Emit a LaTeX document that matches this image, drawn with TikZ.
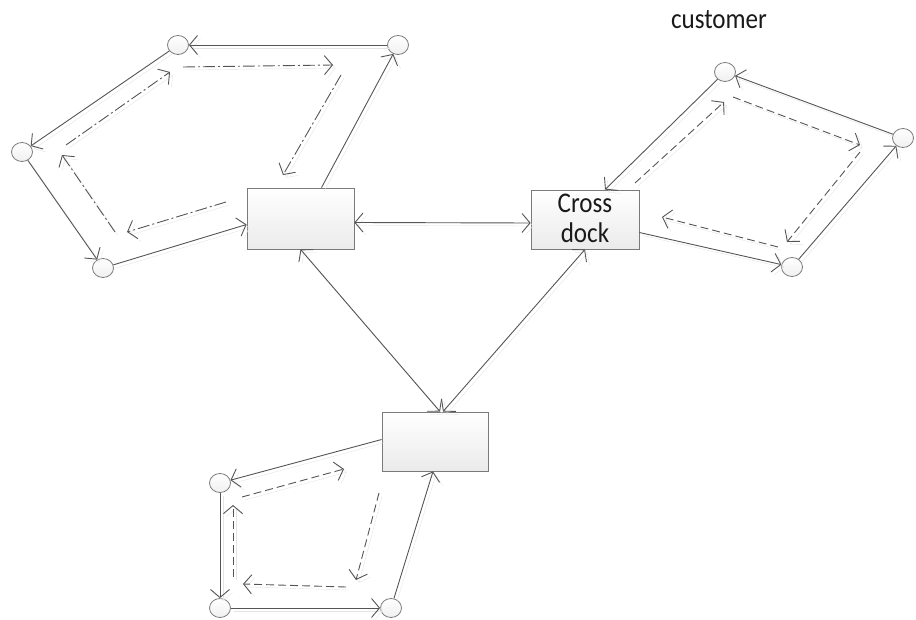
\documentclass[tikz,border=0pt]{standalone}
\usepackage{fontspec}
\newfontfamily\diafont[FakeStretch=0.88]{Carlito}
\usetikzlibrary{arrows.meta,shapes.geometric}
\definecolor{linec}{HTML}{555555}
\definecolor{shadc}{HTML}{E4E4E4}
\definecolor{boxc}{HTML}{7A7A7A}
\begin{document}
\begin{tikzpicture}[x=1pt,y=-1pt,
  >={Straight Barb[length=8pt,width=19pt]},
  site/.style={ellipse, draw=boxc, line width=0.8pt, minimum width=21pt, minimum height=19pt, inner sep=0pt, top color=white, bottom color=black!6},
  hub/.style={rectangle, draw=boxc, line width=0.8pt, minimum width=107pt, minimum height=61pt, inner sep=0pt, top color=white, bottom color=black!8},
  flow/.style={draw=linec, line width=0.9pt, ->, preaction={draw=shadc, transform canvas={shift={(3pt,-3pt)}}}},
  ret/.style={flow, dash pattern=on 8pt off 4pt},
  retdd/.style={flow, dash pattern=on 12pt off 3pt on 2pt off 3pt},
  lbl/.style={font=\diafont\fontsize{28.5}{30}\selectfont, text=black!90}
]
\useasboundingbox (0,0) rectangle (916,620);

% hubs
\node[hub] (lb) at (300.5,218.5) {};
\node[hub, minimum width=108pt, minimum height=59pt, lbl, align=center, text depth=3pt] (cd) at (585,219.5) {Cross\\dock};
\node[hub, minimum width=106pt, minimum height=59pt] (bb) at (435,441.5) {};

% customers
\node[site] (c1) at (178,45) {};
\node[site] (c2) at (398,45) {};
\node[site] (c3) at (22,152) {};
\node[site] (c4) at (103,268) {};
\node[site] (r1) at (725,72) {};
\node[site] (r2) at (903,138) {};
\node[site] (r3) at (792,267) {};
\node[site] (b1) at (220,483) {};
\node[site] (b2) at (220,608) {};
\node[site] (b3) at (391,608) {};

\node[lbl, anchor=base] (cust) at (719,29) {customer};

% left loop
\draw[flow] ([xshift=21pt]lb.north) -- (c2);
\draw[flow] (c2) -- (c1);
\draw[flow] (c1) -- (c3);
\draw[flow] (c3) -- (c4);
\draw[flow] (c4) -- ([yshift=-6pt]lb.west);

% right loop
\draw[flow] (r1) -- ([xshift=20pt]cd.north);
\draw[flow] ([yshift=-13pt]cd.east) -- (r3);
\draw[flow] (r3) -- (r2);
\draw[flow] (r2) -- (r1);

% bottom loop
\draw[flow] ([yshift=2pt]bb.west) -- (b1);
\draw[flow] (b1) -- (b2);
\draw[flow] (b2) -- (b3);
\draw[flow] (b3) -- ([xshift=-2pt]bb.south);

% hub links
\draw[flow,<->] ([yshift=-4pt]lb.east) -- ([yshift=-3.5pt]cd.west);
\draw[flow,<->] (lb.south) -- ([xshift=5pt]bb.north);
\draw[flow,<->] (cd.south) -- ([xshift=8pt]bb.north);

% inner return paths, left (dash-dot)
\coordinate (la1) at (183,67);  \coordinate (la2) at (333,65);
\coordinate (lb1) at (341,75);  \coordinate (lb2) at (283,175);
\coordinate (lc1) at (226,202); \coordinate (lc2) at (127,232);
\coordinate (ld1) at (115,232); \coordinate (ld2) at (62,155);
\coordinate (le1) at (66,145);  \coordinate (le2) at (170,72);
\draw[retdd] (la1) -- (la2);
\draw[retdd] (lb1) -- (lb2);
\draw[retdd] (lc1) -- (lc2);
\draw[retdd] (ld1) -- (ld2);
\draw[retdd] (le1) -- (le2);

% inner return paths, right (dashed)
\coordinate (ra1) at (635,183); \coordinate (ra2) at (724,102);
\coordinate (rb1) at (733,97);  \coordinate (rb2) at (860,145);
\coordinate (rc1) at (860,152); \coordinate (rc2) at (787,242);
\coordinate (rd1) at (778,247); \coordinate (rd2) at (662,217);
\draw[ret] (ra1) -- (ra2);
\draw[ret] (rb1) -- (rb2);
\draw[ret] (rc1) -- (rc2);
\draw[ret] (rd1) -- (rd2);

% inner return paths, bottom (dashed)
\coordinate (ba1) at (242,497); \coordinate (ba2) at (344,469);
\coordinate (bb1) at (379,493); \coordinate (bb2) at (356,580);
\coordinate (bc1) at (346,587); \coordinate (bc2) at (243,584);
\coordinate (bd1) at (233,577); \coordinate (bd2) at (233,505);
\draw[ret] (ba1) -- (ba2);
\draw[ret] (bb1) -- (bb2);
\draw[ret] (bc1) -- (bc2);
\draw[ret] (bd1) -- (bd2);
\end{tikzpicture}
\end{document}
